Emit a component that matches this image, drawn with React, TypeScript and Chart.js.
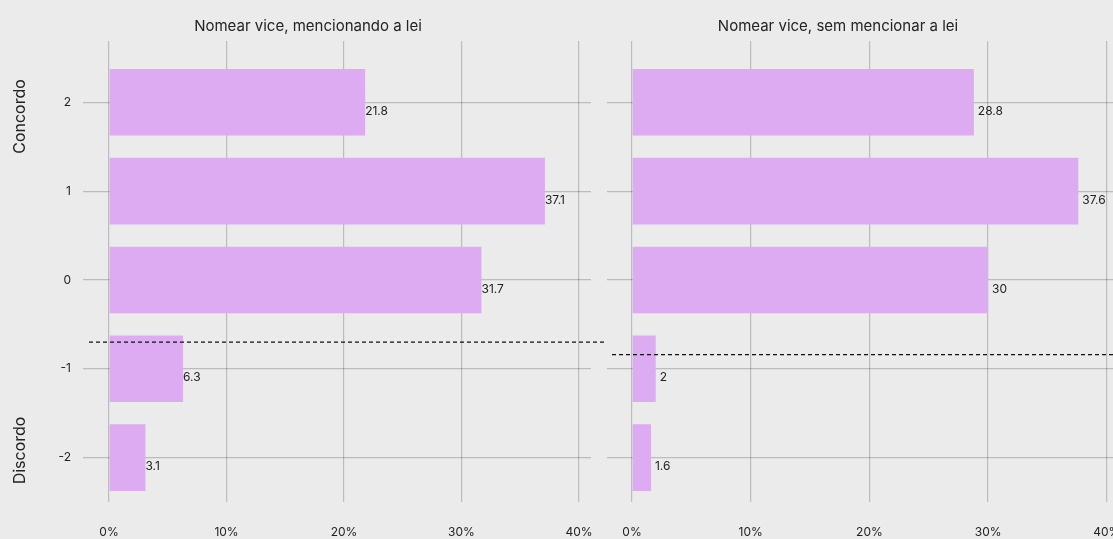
import React, { useEffect, useRef } from "react";
import { Chart, registerables } from "chart.js";

Chart.register(...registerables);

const levels = [2, 1, 0, -1, -2];
const leftValues = [21.8, 37.1, 31.7, 6.3, 3.1];
const rightValues = [28.8, 37.6, 30, 2, 1.6];
const titles = ["Nomear vice, mencionando a lei", "Nomear vice, sem mencionar a lei"];
const xTickValues = [0, 10, 20, 30, 40];
const yTickValues = [2, 1, 0, -1, -2];
const meanLines = [-0.7, -0.84];
const sideLabels = ["Concordo", "Discordo"];
const sideLabelLevels = [1.84, -1.92];

const FONT = "Inter, 'Noto Sans', sans-serif";
const BG = "#ebebeb";
const BAR = "#dcabf1";
const GRID = "rgba(0,0,0,0.2)";
const TEXT = "#222222";

type PanelOpts = {
  values: number[];
  title: string;
  titleX: number;
  mean: number;
  xMin: number;
  xMax: number;
  yAxisWidth: number;
  showYLabels: boolean;
  rightPad: number;
  labelOffset: number;
  dashLeft: number;
  dashRight: number;
  side: boolean;
};

function makeConfig(o: PanelOpts): any {
  const decor = {
    id: "decor",
    afterDraw(chart: any) {
      const ctx = chart.ctx;
      const area = chart.chartArea;
      const xs = chart.scales.x;
      const ys = chart.scales.y;
      ctx.save();
      // title
      ctx.fillStyle = TEXT;
      ctx.font = `15px ${FONT}`;
      ctx.textAlign = "center";
      ctx.textBaseline = "middle";
      ctx.fillText(o.title, o.titleX, 26);
      // value labels
      ctx.font = `12px ${FONT}`;
      ctx.textAlign = "left";
      o.values.forEach((v, i) => {
        const px = xs.getPixelForValue(v) + o.labelOffset;
        const py = ys.getPixelForValue(levels[i]) + 9;
        ctx.fillText(String(v), px, py);
      });
      // dashed mean line
      const my = ys.getPixelForValue(o.mean);
      ctx.strokeStyle = "#111111";
      ctx.lineWidth = 1.2;
      ctx.setLineDash([4, 3]);
      ctx.beginPath();
      ctx.moveTo(area.left + o.dashLeft, my);
      ctx.lineTo(area.right + o.dashRight, my);
      ctx.stroke();
      ctx.setLineDash([]);
      // side labels
      if (o.side) {
        ctx.font = `16px ${FONT}`;
        ctx.textAlign = "center";
        ctx.textBaseline = "middle";
        sideLabels.forEach((s, i) => {
          const py = ys.getPixelForValue(sideLabelLevels[i]);
          ctx.save();
          ctx.translate(20, py);
          ctx.rotate(-Math.PI / 2);
          ctx.fillText(s, 0, 0);
          ctx.restore();
        });
      }
      ctx.restore();
    },
  };

  return {
    type: "bar",
    data: {
      datasets: [
        {
          data: o.values.map((v, i) => ({ x: v, y: levels[i] })),
          backgroundColor: BAR,
          borderWidth: 0,
          barPercentage: 0.75,
          categoryPercentage: 1,
        },
      ],
    },
    options: {
      indexAxis: "y",
      animation: false,
      responsive: false,
      maintainAspectRatio: false,
      layout: { padding: { top: 41, right: o.rightPad, bottom: 0, left: 0 } },
      plugins: {
        legend: { display: false },
        tooltip: { enabled: false },
        title: { display: false },
      },
      scales: {
        x: {
          type: "linear",
          min: o.xMin,
          max: o.xMax,
          z: 1,
          afterBuildTicks(scale: any) {
            scale.ticks = xTickValues.map((v) => ({ value: v }));
          },
          afterFit(scale: any) {
            scale.height = 37;
            scale.paddingLeft = 0;
            scale.paddingRight = 0;
          },
          grid: { color: GRID, lineWidth: 1.2, drawTicks: false },
          border: { display: false },
          ticks: {
            autoSkip: false,
            maxRotation: 0,
            padding: 23,
            color: TEXT,
            font: { family: FONT, size: 12 },
            callback: (v: any) => `${v}%`,
          },
        },
        y: {
          type: "linear",
          min: -2.5,
          max: 2.69,
          offset: false,
          z: 1,
          afterBuildTicks(scale: any) {
            scale.ticks = yTickValues.map((v) => ({ value: v }));
          },
          afterFit(scale: any) {
            scale.width = o.yAxisWidth;
            scale.paddingTop = 0;
            scale.paddingBottom = 0;
          },
          grid: { color: GRID, lineWidth: 1.2, drawTicks: false, offset: false },
          border: { display: false },
          ticks: {
            display: o.showYLabels,
            autoSkip: false,
            padding: 12,
            color: TEXT,
            font: { family: FONT, size: 12 },
            callback: (v: any) => `${v}`,
          },
        },
      },
    },
    plugins: [decor],
  };
}

function Panel(props: { opts: PanelOpts; left: number; width: number }) {
  const ref = useRef<HTMLCanvasElement | null>(null);
  useEffect(() => {
    if (!ref.current) return;
    const chart = new Chart(ref.current, makeConfig(props.opts));
    return () => chart.destroy();
  }, []);
  return (
    <canvas
      ref={ref}
      width={props.width}
      height={539}
      style={{ position: "absolute", left: props.left, top: 0, width: props.width, height: 539 }}
    />
  );
}

export default function App() {
  const leftOpts: PanelOpts = {
    values: leftValues,
    title: titles[0],
    titleX: 308,
    mean: meanLines[0],
    xMin: -26 / 11.75,
    xMax: (591 - 109) / 11.75,
    yAxisWidth: 83,
    showYLabels: true,
    rightPad: 16,
    labelOffset: 0,
    dashLeft: 6,
    dashRight: 14,
    side: true,
  };
  const rightOpts: PanelOpts = {
    values: rightValues,
    title: titles[1],
    titleX: 231,
    mean: meanLines[1],
    xMin: -25 / 11.87,
    xMax: (1113 - 632) / 11.87,
    yAxisWidth: 0,
    showYLabels: false,
    rightPad: 0,
    labelOffset: 4,
    dashLeft: 5,
    dashRight: 0,
    side: false,
  };
  return (
    <div
      style={{
        position: "absolute",
        left: 0,
        top: 0,
        width: 1113,
        height: 539,
        background: BG,
        overflow: "hidden",
      }}
    >
      <Panel opts={leftOpts} left={0} width={607} />
      <Panel opts={rightOpts} left={607} width={506} />
    </div>
  );
}
